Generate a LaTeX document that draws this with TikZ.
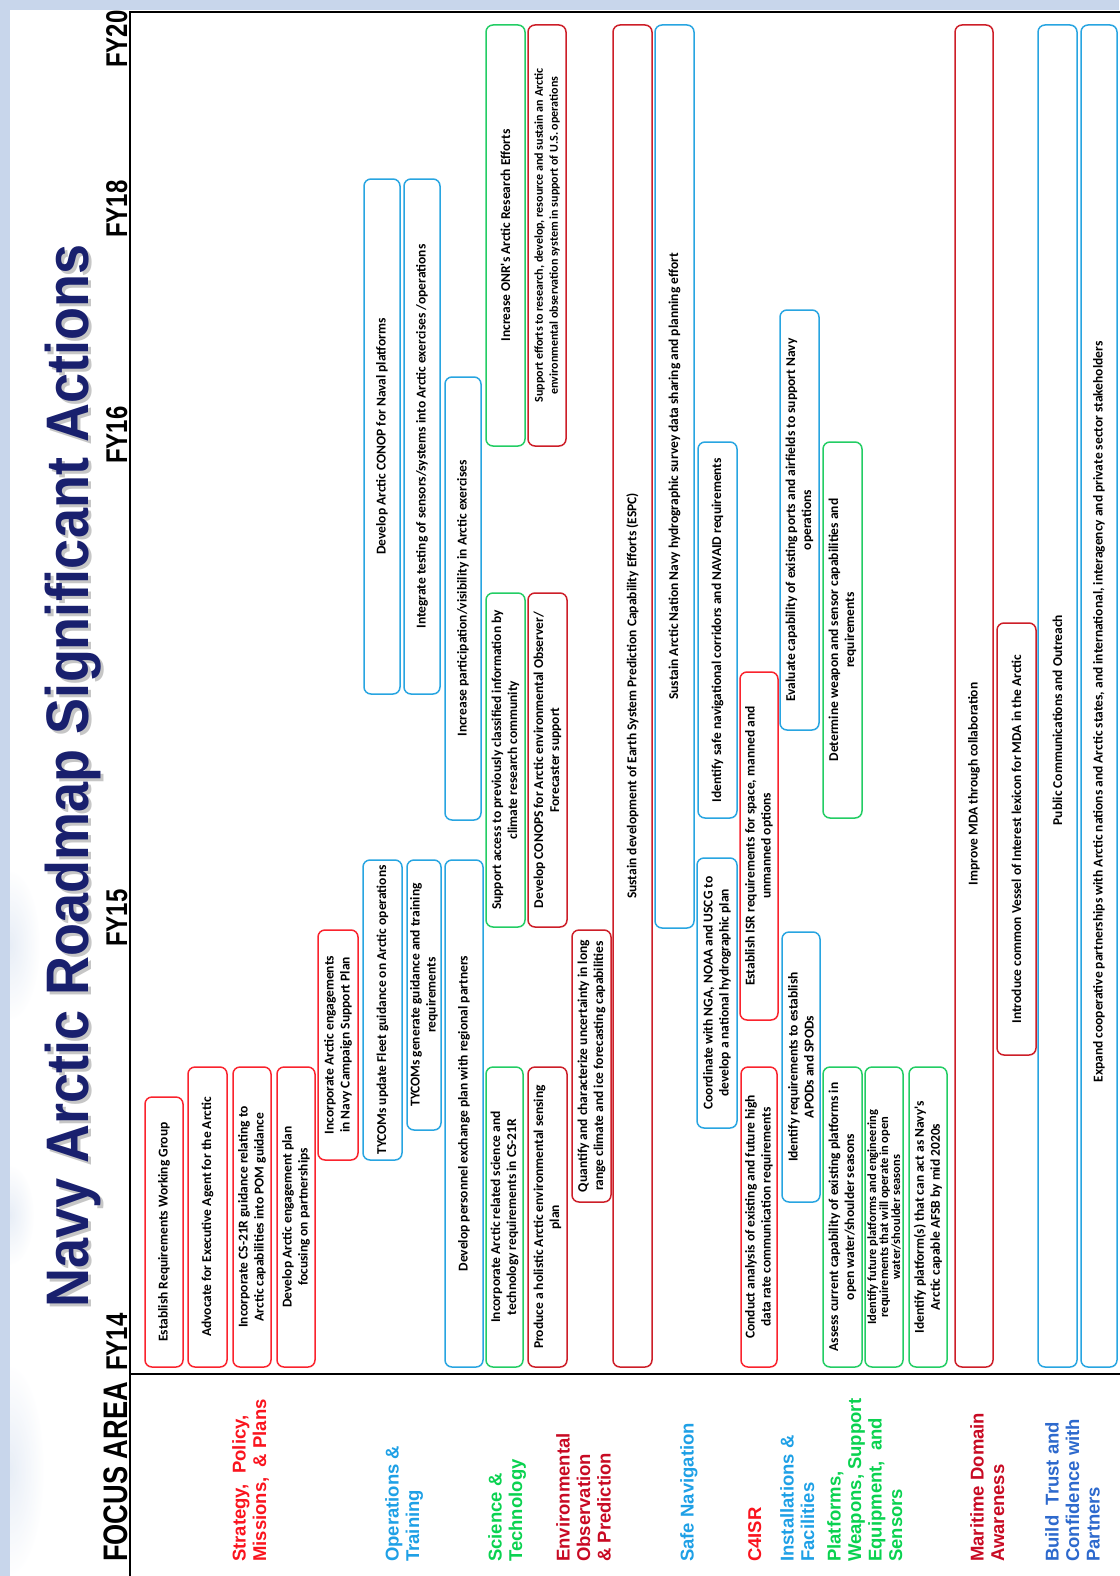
\documentclass[tikz,border=0pt]{standalone}
\usepackage{fontspec}
\setmainfont{Liberation Sans}
\newfontfamily\cfont{Carlito}
\definecolor{bgblue}{RGB}{200,214,235}
\definecolor{redS}{RGB}{250,35,45}
\definecolor{redE}{RGB}{205,30,40}
\definecolor{blueB}{RGB}{40,165,225}
\definecolor{greenB}{RGB}{35,205,100}
\definecolor{lred}{RGB}{250,20,30}
\definecolor{lblue}{RGB}{30,160,230}
\definecolor{lgreen}{RGB}{10,210,80}
\definecolor{ldred}{RGB}{200,10,35}
\definecolor{lnavy}{RGB}{45,105,205}
\definecolor{navy}{RGB}{25,32,110}
\newcommand{\bxf}{\cfont\bfseries\fontsize{13.5pt}{16pt}\selectfont}
\newcommand{\lblf}{\bfseries\fontsize{18.5pt}{20.5pt}\selectfont}
\tikzset{
  abox/.style={rotate=90, rounded corners=7pt, line width=1.5pt, fill=white,
    inner sep=1pt, align=center, font=\bxf, text=black},
  flabel/.style={rotate=90, anchor=north west, inner sep=0pt, align=left, font=\lblf},
  fylab/.style={rotate=90, anchor=base, inner sep=0pt, font=\bfseries\fontsize{30pt}{32pt}\selectfont},
  cloud/.style={inner color=bgblue!70, outer color=white, opacity=0.6},
}
% #1 opts, #2 name, #3 x1, #4 x2, #5 y1, #6 y2, #7 colour, #8 text
\newcommand{\abox}[8][]{\node[abox,draw=#7,minimum width={#6-#5},minimum height={#4-#3},#1] (#2) at ({(#3+#4)/2},{(#5+#6)/2}) {#8};}
\begin{document}
\begin{tikzpicture}[x=1pt,y=-1pt]
\useasboundingbox (0,0) rectangle (1119,1576);
\fill[bgblue] (0,0) rectangle (1119,1576);
\fill[white] (10,10) rectangle (1119,1576);
% faint background texture on the left strip
\begin{scope}
\clip (10,10) rectangle (128,1576);
\shade[cloud] (10,945) ellipse [x radius=30pt, y radius=75pt];
\shade[cloud] (10,1215) ellipse [x radius=24pt, y radius=50pt];
\shade[cloud] (10,1470) ellipse [x radius=34pt, y radius=105pt];
\end{scope}
% title
\node[rotate=90, anchor=base, inner sep=0pt, text=gray!45, font=\bfseries\fontsize{60pt}{62pt}\selectfont] (titleshadow) at (91,779) {\scalebox{0.9}[1]{Navy Arctic Roadmap Significant Actions}};
\node[rotate=90, anchor=base, inner sep=0pt, text=navy, font=\bfseries\fontsize{60pt}{62pt}\selectfont] (title) at (88,776) {\scalebox{0.9}[1]{Navy Arctic Roadmap Significant Actions}};
% frame
\draw[line width=2.5pt] (1125,12) -- (130,12) -- (130,1580);
\draw[line width=2pt] (130,1374) -- (1125,1374);
% FY labels
\node[fylab] (fy14) at (127,1342) {\scalebox{0.8}[1]{FY14}};
\node[fylab] (fy15) at (127,918) {\scalebox{0.8}[1]{FY15}};
\node[fylab] (fy16) at (127,435) {\scalebox{0.8}[1]{FY16}};
\node[fylab] (fy18) at (127,209) {\scalebox{0.8}[1]{FY18}};
\node[fylab] (fy20) at (127,39) {\scalebox{0.8}[1]{FY20}};
\node[rotate=90, anchor=base, inner sep=0pt, font=\bfseries\fontsize{34pt}{36pt}\selectfont] (focus) at (127,1472) {\scalebox{0.8}[1]{FOCUS AREA}};
% focus area labels
\node[flabel, text=lred] (fa1) at (232,1562) {Strategy,\ \ Policy,\\Missions,\ \ \& Plans};
\node[flabel, text=lblue] (fa2) at (385,1562) {Operations \&\\Training};
\node[flabel, text=lgreen] (fa3) at (488,1562) {Science \&\\Technology};
\node[flabel, text=ldred] (fa4) at (556,1562) {Environmental\\Observation\\\& Prediction};
\node[flabel, text=lblue] (fa5) at (680,1562) {Safe Navigation};
\node[flabel, text=lred] (fa6) at (748,1562) {C4ISR};
\node[flabel, text=lblue] (fa7) at (780,1562) {Installations \&\\Facilities};
\node[flabel, text=lgreen] (fa8) at (827,1562) {Platforms,\\Weapons, Support\\Equipment,\ \ and\\Sensors};
\node[flabel, text=ldred] (fa9) at (970,1562) {Maritime Domain\\Awareness};
\node[flabel, text=lnavy] (fa10) at (1045,1562) {Build\ \ Trust and\\Confidence with\\Partners};
% boxes
\abox{b1}{145}{183}{1097}{1367}{redS}{Establish Requirements Working Group}
\abox{b2}{188}{227}{1067}{1367}{redS}{Advocate for Executive Agent for the Arctic}
\abox{b3}{233}{271}{1067}{1367}{redS}{Incorporate CS-21R guidance relating to\\Arctic capabilities into POM guidance}
\abox{b4}{277}{315}{1067}{1367}{redS}{Develop Arctic engagement plan\\focusing on partnerships}
\abox{b5}{318}{358}{930}{1160}{redS}{Incorporate Arctic engagements\\in Navy Campaign Support Plan}
\abox{b6}{363}{402}{860}{1160}{blueB}{TYCOMs update Fleet guidance on Arctic operations}
\abox{b7}{407}{441}{860}{1130}{blueB}{TYCOMs generate guidance and training\\requirements}
\abox{b8}{445}{483}{860}{1367}{blueB}{Develop personnel exchange plan with regional partners}
\abox{b9}{364}{400}{179}{694}{blueB}{Develop Arctic CONOP for Naval platforms}
\abox{b10}{404}{440}{179}{694}{blueB}{Integrate testing of sensors/systems into Arctic exercises /operations}
\abox{b11}{445}{481}{377}{820}{blueB}{Increase participation/visibility in Arctic exercises}
\abox{b12}{486}{523}{1067}{1367}{greenB}{Incorporate Arctic related science and\\technology requirements in CS-21R}
\abox{b13}{486}{525}{593}{927}{greenB}{Support access to previously classified information by\\climate research community}
\abox{b14}{486}{525}{25}{446}{greenB}{Increase ONR's Arctic Research Efforts}
\abox{b15}{528}{567}{1067}{1367}{redE}{Produce a holistic Arctic environmental sensing\\plan}
\abox{b16}{528}{567}{593}{927}{redE}{Develop CONOPS for Arctic environmental Observer/\\Forecaster support}
\abox[font=\cfont\bfseries\fontsize{12pt}{15pt}\selectfont]{b17}{528}{566}{25}{446}{redE}{Support efforts to research, develop, resource and sustain an Arctic\\environmental observation system in support of U.S. operations}
\abox{b18}{572}{611}{930}{1202}{redE}{Quantify and characterize uncertainty in long\\range climate and ice forecasting capabilities}
\abox{b19}{613}{652}{25}{1367}{redE}{Sustain development of Earth System Prediction Capability Efforts (ESPC)}
\abox{b20}{655}{694}{25}{928}{blueB}{Sustain Arctic Nation Navy hydrographic survey data sharing and planning effort}
\abox{b21}{697}{737}{858}{1128}{blueB}{Coordinate with NGA, NOAA and USCG to\\develop a national hydrographic plan}
\abox{b22}{698}{737}{442}{818}{blueB}{Identify safe navigational corridors and NAVAID requirements}
\abox{b23}{741}{777}{1067}{1367}{redS}{Conduct analysis of existing and future high\\data rate communication requirements}
\abox{b24}{740}{778}{672}{1020}{redS}{Establish ISR requirements for space, manned and\\unmanned options}
\abox{b25}{782}{820}{932}{1202}{blueB}{Identify requirements to establish\\APODs and SPODs}
\abox{b26}{780}{819}{310}{730}{blueB}{Evaluate capability of existing ports and airfields to support Navy\\operations}
\abox{b27}{823}{862}{1067}{1367}{greenB}{Assess current capability of existing platforms in\\open water/shoulder seasons}
\abox[font=\cfont\bfseries\fontsize{12.5pt}{12pt}\selectfont]{b28}{865}{903}{1067}{1367}{greenB}{Identify future platforms and engineering\\requirements that will operate in open\\water/shoulder seasons}
\abox{b29}{909}{947}{1067}{1367}{greenB}{Identify platform(s) that can act as Navy's\\Arctic capable AFSB by mid 2020s}
\abox{b30}{823}{862}{442}{818}{greenB}{Determine weapon and sensor capabilities and\\requirements}
\abox{b31}{955}{993}{25}{1367}{redE}{Improve MDA through collaboration\hspace*{176pt}}
\abox{b32}{997}{1036}{623}{1055}{redE}{Introduce common Vessel of Interest lexicon for MDA in the Arctic}
\abox{b33}{1038}{1077}{25}{1367}{blueB}{Public Communications and Outreach\hspace*{48pt}}
\abox{b34}{1081}{1117}{25}{1367}{blueB}{Expand cooperative partnerships with Arctic nations and Arctic states, and international, interagency and private sector stakeholders\hspace*{32pt}}
\end{tikzpicture}
\end{document}
